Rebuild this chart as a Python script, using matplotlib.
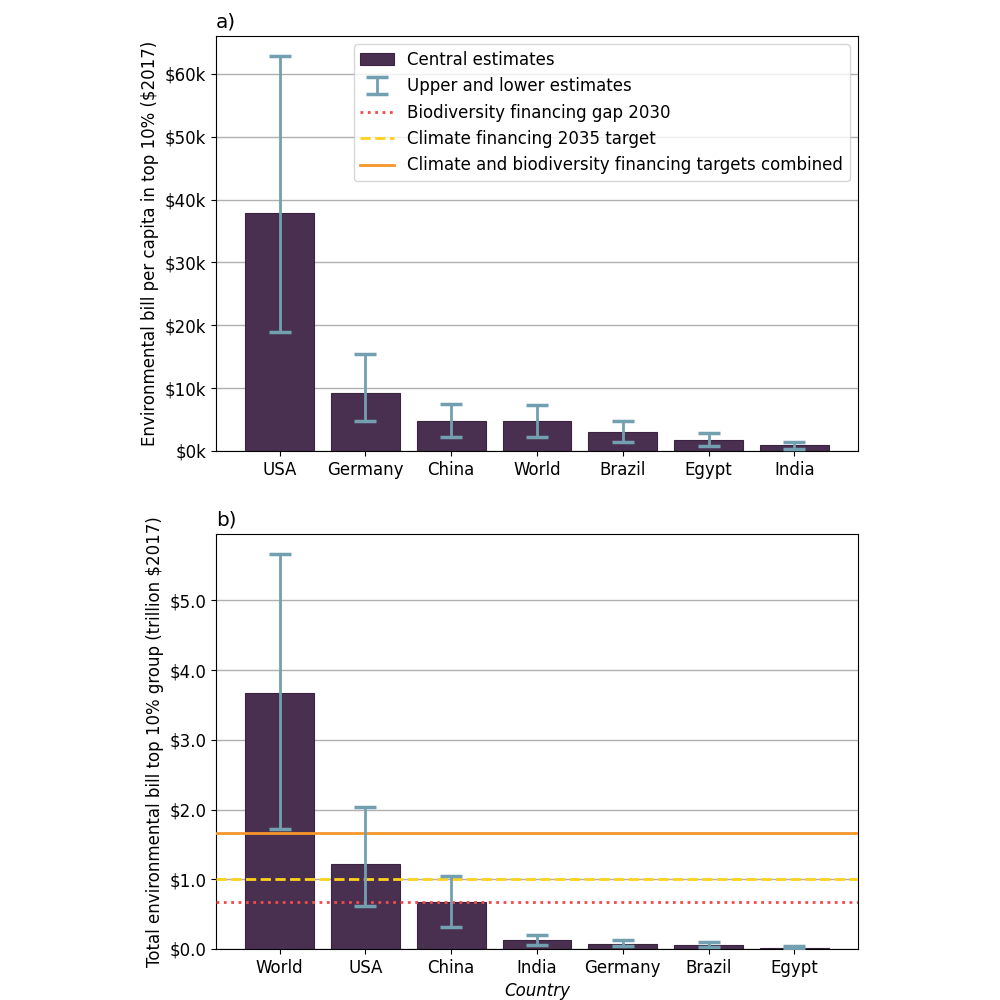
import numpy as np
import matplotlib
matplotlib.use('Agg')
import matplotlib.pyplot as plt
from matplotlib.ticker import FuncFormatter, MultipleLocator
from matplotlib.lines import Line2D

plt.rcParams['font.size'] = 12

# Panel a) per capita bill in top 10% (thousand $2017)
countriesA = ['USA', 'Germany', 'China', 'World', 'Brazil', 'Egypt', 'India']
centralA = [37.8, 9.2, 4.8, 4.7, 3.0, 1.7, 0.9]
lowerA = [19.0, 4.7, 2.2, 2.2, 1.5, 0.85, 0.3]
upperA = [62.9, 15.5, 7.5, 7.4, 4.8, 2.9, 1.5]

# Panel b) total bill top 10% group (trillion $2017)
countriesB = ['World', 'USA', 'China', 'India', 'Germany', 'Brazil', 'Egypt']
centralB = [3.67, 1.22, 0.68, 0.13, 0.07, 0.06, 0.015]
lowerB = [1.72, 0.62, 0.31, 0.06, 0.04, 0.03, 0.005]
upperB = [5.67, 2.04, 1.05, 0.20, 0.135, 0.105, 0.04]

# financing targets (trillion $2017)
biodiversityGap = 0.67
climateTarget = 1.0
combinedTarget = biodiversityGap + climateTarget

barColor = '#4a3050'
errColor = '#72a0b0'
redColor = '#f24a4a'
yellowColor = '#ffd21a'
orangeColor = '#f8962a'


def draw_panel(ax, names, central, lower, upper):
    x = np.arange(len(names))
    central = np.array(central)
    yerr = [central - np.array(lower), np.array(upper) - central]
    ax.grid(axis='y', color='#b0b0b0', linewidth=1, zorder=0)
    bars = ax.bar(x, central, width=0.8, color=barColor, edgecolor='#3a2440',
                  linewidth=0.8, zorder=2, label='Central estimates')
    err = ax.errorbar(x, central, yerr=yerr, fmt='none', ecolor=errColor,
                      elinewidth=2, capsize=8, capthick=2.5, zorder=4,
                      label='Upper and lower estimates')
    ax.set_xticks(x)
    ax.set_xticklabels(names)
    ax.set_ylim(bottom=0)
    return bars, err


fig = plt.figure(figsize=(10, 10), dpi=100)
ax1 = fig.add_axes([0.216, 0.549, 0.642, 0.415])
ax2 = fig.add_axes([0.216, 0.051, 0.642, 0.415])

bars, err = draw_panel(ax1, countriesA, centralA, lowerA, upperA)
ax1.yaxis.set_major_locator(MultipleLocator(10))
ax1.yaxis.set_major_formatter(FuncFormatter(lambda v, p: '$%dk' % v))
ax1.set_ylabel('Environmental bill per capita in top 10% ($2017)')
ax1.set_title('a)', loc='left')

draw_panel(ax2, countriesB, centralB, lowerB, upperB)
ax2.axhline(biodiversityGap, color=redColor, linestyle=':', linewidth=2, zorder=3)
ax2.axhline(climateTarget, color=yellowColor, linestyle='--', linewidth=2, zorder=3)
ax2.axhline(combinedTarget, color=orangeColor, linestyle='-', linewidth=2, zorder=3)
ax2.yaxis.set_major_locator(MultipleLocator(1))
ax2.yaxis.set_major_formatter(FuncFormatter(lambda v, p: '$%.1f' % v))
ax2.set_ylabel('Total environmental bill top 10% group (trillion $2017)')
ax2.set_xlabel('Country', fontstyle='italic')
ax2.set_title('b)', loc='left')

handles = [bars, err,
           Line2D([], [], color=redColor, linestyle=':', linewidth=2),
           Line2D([], [], color=yellowColor, linestyle='--', linewidth=2),
           Line2D([], [], color=orangeColor, linestyle='-', linewidth=2)]
labels = ['Central estimates', 'Upper and lower estimates',
          'Biodiversity financing gap 2030', 'Climate financing 2035 target',
          'Climate and biodiversity financing targets combined']
ax1.legend(handles, labels, loc='upper right')

fig.savefig('out.png', dpi=100)
